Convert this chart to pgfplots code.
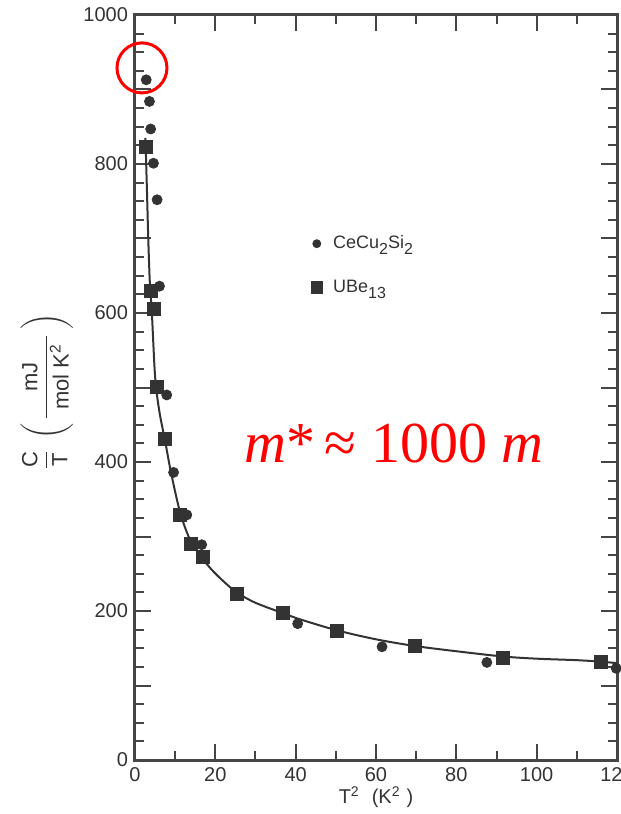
\documentclass[border=0pt]{standalone}
\usepackage{amsmath}
\usepackage{fontspec}
\setmainfont{Liberation Sans}
\newfontfamily\timesfont{Liberation Serif}
\usepackage{pgfplots}
\pgfplotsset{compat=1.18}
\definecolor{ink}{HTML}{333333}
\definecolor{axc}{HTML}{454545}
\newcommand{\dn}[1]{\raisebox{-3pt}{\fontsize{8}{8}\selectfont #1}}
\begin{document}
\begin{tikzpicture}
\begin{axis}[
  scale only axis, width=241pt, height=372.5pt,
  xmin=0, xmax=120, ymin=0, ymax=1000,
  axis line style={axc, line width=1.5pt},
  xtick={0,20,...,120}, xticklabels={0,20,40,60,80,100,120},
  minor x tick num=1,
  ytick={0,100,...,1000}, yticklabels={0,{},200,{},400,{},600,{},800,{},1000},
  minor y tick num=3,
  tick align=inside,
  major tick length=8pt, minor tick length=4.5pt,
  tick style={axc, line width=1pt},
  ticklabel style={font=\fontsize{10}{12}\selectfont, text=ink},
  /pgf/number format/assume math mode=true,
  clip=false,
  legend style={at={(axis cs:43.07,707)}, anchor=north west, draw=none, fill=none,
    inner sep=0pt, row sep=12pt, nodes={inner sep=1pt, text=ink, font=\fontsize{9}{10}\selectfont}},
  legend cell align=left,
  legend image code/.code={\draw[#1] plot coordinates {(4pt,0pt)}; \path (0pt,0pt) (11pt,0pt);},
]
% fitted curve
\addplot[ink, line width=1pt, smooth, tension=0.5, forget plot] coordinates {
(2.6,835) (3.0,760) (3.3,700) (3.7,640) (4.2,600) (5.0,515) (6.0,470) (7.5,428)
(9.0,385) (11.2,333) (13.5,298) (16,276) (19,256) (22,240) (25.3,225) (30,211)
(36.9,197) (41,189) (50.3,174) (60,162) (69.7,153) (80,146) (91.5,139) (100,136)
(110,134) (116,132) (120,130)};
% CeCu2Si2
\addplot[only marks, mark=*, mark size=2.5pt, color=ink, forget plot] coordinates {
(2.8,913) (3.6,884) (3.9,847) (4.6,801) (5.5,752) (6.1,636) (7.9,490) (9.6,386)
(12.9,329) (16.6,289) (40.5,183) (61.5,152) (87.6,131) (119.8,123)};
% UBe13
\addplot[only marks, mark=square*, mark size=3.25pt, color=ink, forget plot] coordinates {
(2.7,823) (4.0,630) (4.6,605) (5.4,501) (7.5,431) (11.2,329) (13.8,290) (16.9,273)
(25.3,223) (36.9,198) (50.3,173) (69.7,153) (91.5,137) (116,132)};
\addlegendimage{only marks, mark=*, mark size=2pt, color=ink}
\addlegendentry{CeCu\dn{2}Si\dn{2}}
\addlegendimage{only marks, mark=square*, mark size=2.9pt, color=ink}
\addlegendentry{UBe\dn{13}}
% labels
\node[rotate=90, anchor=base, text=ink, font=\fontsize{11}{13}\selectfont] at (axis cs:-20.6,494)
  {$\dfrac{\mbox{C}}{\mbox{T}}\;\left(\rule[-11pt]{0pt}{27pt}\,\dfrac{\mbox{mJ}}{\hspace{4pt}\mbox{mol K\textsuperscript{2}}\hspace{4pt}}\,\right)$};
\node[anchor=center, text=ink, font=\fontsize{10}{12}\selectfont] at (axis cs:60,-49.7)
  {T\textsuperscript{2}\hspace{6pt}(K\textsuperscript{2}\hspace{3pt})};
% annotation
\draw[red, line width=1.5pt] (axis cs:1.74,929) circle[radius=12.5pt];
\node[anchor=base, text=red, font=\timesfont\fontsize{29}{30}\selectfont] at (axis cs:64.5,400)
  {\textit{m}*\,≈ 1000 \textit{m}};
\coordinate (bl) at (axis cs:-33.61,-72.48);
\coordinate (tr) at (axis cs:120.75,1020.13);
\end{axis}
\pgfresetboundingbox
\path[use as bounding box] (bl) rectangle (tr);
\end{tikzpicture}
\end{document}
